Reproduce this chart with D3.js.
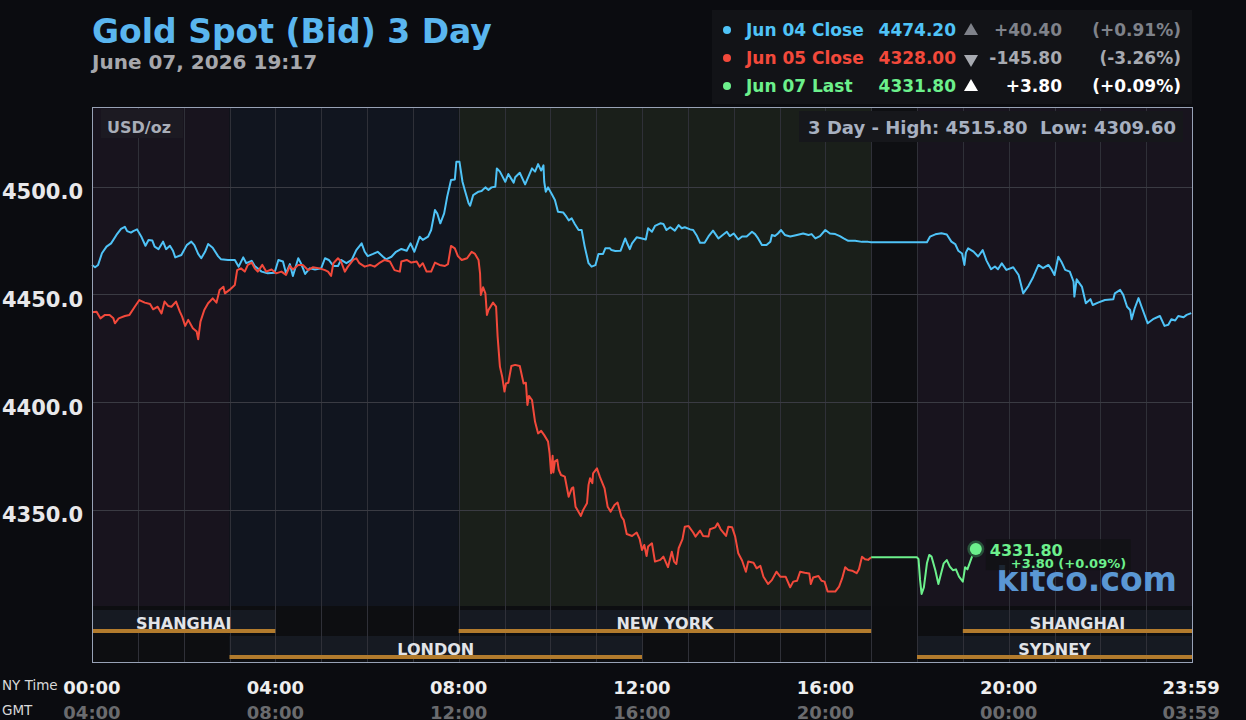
<!DOCTYPE html>
<html>
<head>
<meta charset="utf-8">
<script src="https://cdn.jsdelivr.net/npm/d3@7"></script>
<style>
  body { margin: 0; background: #0b0c10; }
  svg { display: block; font-family: "DejaVu Sans", sans-serif; }
</style>
</head>
<body>
<div id="chart"></div>
<script>
// minutes since 00:00 NY time, price
const jun04Series = [[0,4463.7],[4,4462.6],[8,4463.7],[13,4469.1],[19,4472.2],[25,4473.7],[32,4477.6],[38,4480.4],[43,4481.4],[46,4479.4],[51,4478.7],[54,4479.4],[59,4480.2],[65,4476.5],[70,4472.6],[74,4475.3],[79,4475.0],[82,4472.2],[87,4471.0],[93,4474.5],[97,4471.0],[102,4472.6],[106,4470.3],[109,4467.2],[117,4468.3],[124,4472.9],[130,4474.5],[134,4472.9],[139,4468.8],[143,4466.8],[148,4469.8],[152,4473.4],[158,4471.7],[165,4467.8],[169,4466.3],[178,4466.0],[187,4466.0],[192,4462.9],[198,4467.2],[202,4464.5],[209,4465.6],[213,4463.2],[222,4460.6],[230,4459.8],[239,4460.1],[244,4466.0],[250,4465.3],[254,4459.8],[259,4464.1],[263,4458.6],[270,4466.8],[274,4464.1],[279,4459.5],[285,4462.1],[292,4461.6],[300,4462.1],[305,4466.8],[310,4466.0],[316,4463.2],[322,4463.2],[326,4466.0],[333,4464.5],[340,4466.0],[346,4470.6],[353,4473.7],[357,4469.8],[361,4467.8],[368,4468.8],[374,4469.8],[381,4467.5],[385,4466.3],[392,4467.5],[398,4469.8],[405,4471.1],[412,4470.3],[417,4473.7],[422,4469.8],[429,4476.8],[433,4475.3],[440,4476.8],[444,4479.9],[449,4489.2],[452,4487.6],[456,4483.0],[461,4487.6],[465,4495.4],[470,4503.1],[475,4503.4],[477,4511.6],[481,4511.6],
  [485,4502.3],[488,4498.5],[493,4492.3],[495,4491.2],[499,4496.1],[506,4497.7],[510,4498.0],[515,4499.7],[519,4498.5],[523,4499.7],[528,4500.0],[530,4508.5],[534,4507.0],[541,4502.3],[545,4505.9],[552,4501.9],[554,4504.4],[560,4506.5],[567,4501.1],[576,4508.5],[580,4507.0],[584,4510.5],[588,4507.5],[591,4509.9],[592,4502.3],[594,4497.7],[597,4499.7],[602,4496.5],[606,4493.8],[610,4488.4],[617,4488.0],[621,4486.1],[624,4484.4],[628,4485.3],[632,4482.7],[637,4479.9],[641,4479.9],[645,4472.2],[650,4464.5],[654,4462.9],[659,4463.6],[663,4468.8],[669,4468.8],[672,4471.4],[678,4471.4],[680,4470.6],[685,4470.2],[692,4470.3],[698,4476.0],[701,4473.4],[704,4471.0],[707,4473.7],[713,4476.5],[720,4476.0],[725,4475.5],[728,4480.7],[733,4479.1],[737,4481.8],[744,4483.0],[748,4482.7],[752,4479.9],[757,4481.2],[763,4479.6],[768,4482.2],[772,4480.7],[776,4481.2],[783,4480.2],[787,4479.9],[792,4477.1],[796,4474.0],[802,4474.0],[807,4476.9],[813,4479.6],[820,4476.0],[824,4477.1],[831,4479.1],[835,4477.1],[840,4478.3],[846,4475.5],[851,4476.9],[857,4476.9],[864,4479.1],[868,4478.0],[872,4476.0],[877,4472.9],[883,4472.9],[888,4474.5],[890,4477.6],[894,4477.1],[898,4478.3],[902,4479.9],[907,4477.6],[914,4476.9],[920,4477.4],[931,4478.3],[938,4477.6],[942,4478.0],[947,4476.0],[953,4477.1],[960,4479.9],[966,4478.3],[973,4478.0],[979,4477.1],[984,4476.0],[990,4474.9],[999,4474.9],[1008,4474.4],[1016,4474.4],[1020,4474.2],[1080,4474.2],
  [1093,4474.2],[1097,4476.8],[1104,4477.9],[1112,4478.4],[1119,4477.8],[1125,4474.5],[1130,4473.4],[1134,4470.3],[1139,4469.0],[1142,4463.7],[1144,4469.4],[1147,4471.4],[1154,4469.9],[1160,4467.6],[1166,4470.6],[1171,4465.7],[1177,4461.7],[1182,4463.0],[1186,4461.7],[1191,4464.4],[1197,4461.4],[1206,4462.6],[1213,4459.0],[1219,4450.5],[1226,4454.0],[1232,4458.0],[1239,4463.7],[1245,4462.2],[1252,4463.7],[1256,4461.7],[1260,4459.0],[1265,4467.5],[1269,4465.2],[1274,4461.4],[1280,4460.6],[1285,4455.9],[1286,4449.0],[1289,4457.0],[1296,4453.5],[1301,4445.9],[1307,4447.8],[1310,4445.1],[1317,4446.2],[1326,4447.4],[1337,4447.8],[1339,4450.5],[1346,4452.1],[1350,4449.8],[1355,4444.3],[1359,4442.8],[1361,4438.5],[1365,4443.6],[1370,4448.3],[1374,4444.3],[1382,4436.6],[1389,4438.5],[1398,4440.0],[1404,4435.4],[1409,4435.9],[1413,4438.5],[1418,4437.9],[1422,4440.0],[1429,4439.4],[1433,4440.5],[1439,4441.3]];

const jun05Series = [[0,4441.7],[6,4442.0],[11,4438.9],[17,4440.5],[23,4440.5],[28,4438.9],[30,4436.6],[35,4438.9],[43,4440.0],[49,4440.5],[56,4444.3],[62,4447.4],[69,4446.2],[76,4445.6],[80,4443.1],[86,4444.3],[91,4441.2],[95,4446.7],[100,4444.6],[104,4444.3],[110,4446.7],[115,4442.0],[118,4439.7],[122,4435.4],[126,4438.2],[132,4434.3],[137,4432.8],[139,4429.2],[142,4437.4],[147,4442.8],[152,4445.9],[158,4448.2],[163,4446.2],[167,4452.1],[172,4453.6],[174,4450.5],[180,4452.1],[187,4454.4],[190,4461.3],[195,4462.1],[200,4460.6],[204,4463.7],[209,4464.8],[213,4462.1],[217,4460.6],[223,4463.7],[228,4460.6],[235,4461.6],[241,4459.8],[248,4460.6],[254,4459.1],[259,4463.2],[263,4461.6],[270,4463.7],[276,4463.7],[283,4461.3],[289,4462.6],[298,4462.1],[305,4461.3],[309,4460.6],[313,4458.6],[316,4464.5],[322,4466.8],[326,4465.3],[331,4460.6],[335,4462.9],[342,4466.0],[346,4466.8],[350,4464.5],[357,4462.9],[364,4463.7],[370,4462.9],[377,4464.8],[383,4466.0],[390,4465.3],[396,4461.3],[403,4460.6],[405,4465.3],[412,4466.0],[418,4464.8],[425,4465.3],[429,4462.9],[433,4464.5],[438,4460.6],[444,4460.6],[449,4464.8],[455,4463.7],[462,4463.2],[466,4464.1],[470,4472.5],[475,4471.4],[479,4467.8],
  [484,4466.0],[491,4466.8],[497,4469.8],[501,4469.0],[506,4466.0],[508,4459.8],[509,4449.7],[512,4453.3],[515,4450.5],[517,4440.5],[519,4442.8],[525,4446.2],[529,4444.3],[531,4430.4],[534,4416.5],[537,4411.8],[540,4404.9],[542,4408.7],[545,4409.0],[549,4416.8],[554,4417.3],[560,4416.8],[565,4408.7],[568,4409.0],[570,4398.7],[572,4402.9],[576,4401.0],[580,4390.9],[584,4385.5],[588,4386.7],[592,4384.7],[597,4381.7],[599,4376.3],[601,4367.0],[603,4375.1],[604,4367.4],[606,4372.5],[609,4373.3],[611,4368.7],[614,4366.2],[619,4365.4],[624,4356.1],[628,4360.0],[630,4360.5],[633,4351.5],[640,4347.2],[643,4350.0],[648,4353.1],[650,4361.6],[652,4364.7],[655,4362.4],[656,4367.0],[661,4369.3],[665,4365.2],[671,4360.0],[675,4351.5],[679,4349.2],[684,4352.3],[688,4353.4],[693,4346.9],[696,4345.4],[700,4338.8],[707,4337.9],[713,4339.5],[717,4336.4],[720,4331.4],[723,4333.7],[726,4328.6],[728,4333.0],[733,4334.5],[737,4326.0],[744,4326.8],[748,4328.3],[754,4323.4],[759,4330.6],[762,4326.0],[765,4324.9],[768,4332.2],[773,4336.4],[776,4342.2],[781,4342.5],[787,4339.5],[790,4337.6],[796,4340.4],[800,4337.9],[807,4337.6],[809,4341.0],[816,4341.9],[819,4343.8],[823,4341.0],[830,4337.9],[833,4342.2],[838,4341.9],[842,4337.6],[846,4329.9],[851,4326.5],[856,4321.3],[859,4326.0],[866,4325.5],[870,4322.9],[875,4324.0],[879,4319.0],[885,4315.6],[890,4317.4],[896,4321.3],[901,4319.0],[908,4319.0],[914,4314.1],[918,4316.7],[923,4317.1],[927,4321.3],[933,4320.8],[939,4320.5],[941,4315.6],[944,4318.6],[951,4319.3],[955,4317.1],[959,4316.7],[963,4312.1],[968,4312.1],[973,4312.1],[978,4314.4],[982,4318.2],[986,4323.4],[990,4322.1],[995,4321.8],[1001,4320.6],[1004,4322.4],[1008,4328.3],[1012,4327.1],[1016,4326.8],[1020,4328.0]];

const jun07Series = [[1020,4328.0],[1080,4328.0],[1082,4327.1],[1084,4317.5],[1086,4311.0],[1089,4314.0],[1093,4325.2],[1096,4329.1],[1099,4328.3],[1104,4322.0],[1108,4315.6],[1111,4319.8],[1115,4325.2],[1119,4326.7],[1123,4323.7],[1127,4322.0],[1131,4322.4],[1135,4319.0],[1140,4316.7],[1143,4323.4],[1146,4322.4],[1152,4328.3],[1157,4331.8]];

const legendLabels = ['Jun 04 Close', 'Jun 05 Close', 'Jun 07 Last'];
const legendValues = ['4474.20', '4328.00', '4331.80'];
const legendChanges = ['+40.40', '-145.80', '+3.80'];
const legendPcts = ['(+0.91%)', '(-3.26%)', '(+0.09%)'];
const legendDirs = ['up', 'down', 'up'];

const yTicks = [4350, 4400, 4450, 4500];
const xTicks = [0, 240, 480, 720, 960, 1200, 1439];
const nyLabels = ['00:00', '04:00', '08:00', '12:00', '16:00', '20:00', '23:59'];
const gmtLabels = ['04:00', '08:00', '12:00', '16:00', '20:00', '00:00', '03:59'];

// background zones (minutes)
const zoneStarts = [0, 180, 480, 1020, 1080];
const zoneEnds = [180, 480, 1020, 1080, 1440];
const zoneColors = ['#18141e', '#11151f', '#1a1f1a', '#0e0f12', '#18141e'];

const sessionNames = ['SHANGHAI', 'NEW YORK', 'SHANGHAI', 'LONDON', 'SYDNEY'];
const sessionStarts = [0, 480, 1140, 180, 1080];
const sessionEnds = [240, 1020, 1440, 720, 1440];
const sessionRows = [0, 0, 0, 1, 1];

const dayHigh = '4515.80';
const dayLow = '4309.60';
const lastValue = 4331.8;
const lastTime = 1157;

const width = 1246;
const height = 720;
const pL = 92, pR = 1192, pT = 107, pB = 662;
const stripTop = 606;

const colors = { jun04: '#4fc3f7', jun05: '#f2493b', jun07: '#6cf08c' };

const svg = d3.select('#chart')
              .append('svg')
              .attr('width', width)
              .attr('height', height);

const xScale = d3.scaleLinear().domain([0, 1440]).range([pL, pR]);
const yScale = d3.scaleLinear().domain([4279.4, 4537]).range([pB, pT]);

// zones
svg.selectAll('rect.zone')
   .data(zoneStarts)
   .enter()
   .append('rect')
   .attr('x', (d) => xScale(d))
   .attr('y', pT)
   .attr('width', (d, i) => xScale(zoneEnds[i]) - xScale(d))
   .attr('height', stripTop - pT)
   .attr('fill', (d, i) => zoneColors[i]);

svg.append('rect')
   .attr('x', pL).attr('y', stripTop)
   .attr('width', pR - pL).attr('height', pB - stripTop)
   .attr('fill', '#0d0e11');

// session bars
const rowY = [610, 636];
svg.selectAll('rect.session')
   .data(sessionNames)
   .enter()
   .append('rect')
   .attr('x', (d, i) => xScale(sessionStarts[i]))
   .attr('y', (d, i) => rowY[sessionRows[i]])
   .attr('width', (d, i) => xScale(sessionEnds[i]) - xScale(sessionStarts[i]))
   .attr('height', 23)
   .attr('fill', '#161a22');

// grid
const hours = d3.range(1, 24).map((h) => h * 60);
svg.selectAll('line.vgrid')
   .data(hours)
   .enter()
   .append('line')
   .attr('x1', (d) => Math.round(xScale(d)) + 0.5)
   .attr('x2', (d) => Math.round(xScale(d)) + 0.5)
   .attr('y1', pT)
   .attr('y2', pB)
   .attr('stroke', '#2f3038')
   .attr('stroke-width', 1);

svg.selectAll('line.hgrid')
   .data(yTicks)
   .enter()
   .append('line')
   .attr('x1', pL)
   .attr('x2', pR)
   .attr('y1', (d) => Math.round(yScale(d)) + 0.5)
   .attr('y2', (d) => Math.round(yScale(d)) + 0.5)
   .attr('stroke', '#3a3b43')
   .attr('stroke-width', 1.2);

svg.selectAll('rect.orange')
   .data(sessionNames)
   .enter()
   .append('rect')
   .attr('x', (d, i) => xScale(sessionStarts[i]))
   .attr('y', (d, i) => rowY[sessionRows[i]] + 19)
   .attr('width', (d, i) => xScale(sessionEnds[i]) - xScale(sessionStarts[i]))
   .attr('height', 4)
   .attr('fill', '#b27b2d');

svg.selectAll('text.session')
   .data(sessionNames)
   .enter()
   .append('text')
   .attr('x', (d, i) => (xScale(sessionStarts[i]) + xScale(sessionEnds[i])) / 2)
   .attr('y', (d, i) => rowY[sessionRows[i]] + 19)
   .attr('text-anchor', 'middle')
   .attr('font-size', 16)
   .attr('font-weight', 'bold')
   .attr('fill', '#e2e4e8')
   .text((d) => d);

// lines
const line = d3.line()
               .x((d) => xScale(d[0]))
               .y((d) => yScale(d[1]));

[[jun04Series, colors.jun04], [jun05Series, colors.jun05], [jun07Series, colors.jun07]].forEach(([s, c]) => {
  svg.append('path')
     .datum(s)
     .attr('d', line)
     .attr('fill', 'none')
     .attr('stroke', c)
     .attr('stroke-width', 2)
     .attr('stroke-linejoin', 'round');
});

// border
svg.append('rect')
   .attr('x', pL + 0.5).attr('y', pT + 0.5)
   .attr('width', pR - pL).attr('height', pB - pT)
   .attr('fill', 'none')
   .attr('stroke', '#98a2b6')
   .attr('stroke-width', 1);

// y labels
svg.selectAll('text.ytick')
   .data(yTicks)
   .enter()
   .append('text')
   .attr('x', 83)
   .attr('y', (d) => yScale(d) + 12.5)
   .attr('text-anchor', 'end')
   .attr('font-size', 21)
   .attr('font-weight', 'bold')
   .attr('fill', '#e8e8ea')
   .text((d) => d.toFixed(1));

// x labels
svg.selectAll('text.ny')
   .data(xTicks)
   .enter()
   .append('text')
   .attr('x', (d) => xScale(d))
   .attr('y', 694)
   .attr('text-anchor', 'middle')
   .attr('font-size', 18)
   .attr('font-weight', 'bold')
   .attr('fill', '#eeeeee')
   .text((d, i) => nyLabels[i]);

svg.selectAll('text.gmt')
   .data(xTicks)
   .enter()
   .append('text')
   .attr('x', (d) => xScale(d))
   .attr('y', 719)
   .attr('text-anchor', 'middle')
   .attr('font-size', 18)
   .attr('font-weight', 'bold')
   .attr('fill', '#6a6b6e')
   .text((d, i) => gmtLabels[i]);

svg.append('text').attr('x', 2).attr('y', 690)
   .attr('font-size', 13.5).attr('fill', '#d8d8d8').text('NY Time');
svg.append('text').attr('x', 2).attr('y', 715)
   .attr('font-size', 13.5).attr('fill', '#d8d8d8').text('GMT');

// title
svg.append('text')
   .attr('x', 92).attr('y', 43)
   .attr('font-size', 33).attr('font-weight', 'bold')
   .attr('fill', '#5ab6ef')
   .text('Gold Spot (Bid) 3 Day');

svg.append('text')
   .attr('x', 92).attr('y', 69)
   .attr('font-size', 20).attr('font-weight', 'bold')
   .attr('fill', '#a6a7ac')
   .text('June 07, 2026 19:17');

// legend
svg.append('rect')
   .attr('x', 712).attr('y', 10)
   .attr('width', 480).attr('height', 94)
   .attr('fill', '#121317');

const rowColors = [colors.jun04, colors.jun05, colors.jun07];
const changeColors = ['#7f828a', '#a7aab1', '#ffffff'];
legendLabels.forEach((lab, i) => {
  const cy = 30 + i * 28;
  svg.append('circle').attr('cx', 727).attr('cy', cy).attr('r', 4).attr('fill', rowColors[i]);
  svg.append('text').attr('x', 746).attr('y', cy + 6)
     .attr('font-size', 17).attr('font-weight', 'bold').attr('fill', rowColors[i]).text(lab);
  svg.append('text').attr('x', 956).attr('y', cy + 6).attr('text-anchor', 'end')
     .attr('font-size', 17).attr('font-weight', 'bold').attr('fill', rowColors[i]).text(legendValues[i]);
  svg.append('path')
     .attr('d', d3.symbol().type(d3.symbolTriangle).size(85)())
     .attr('transform', 'translate(971,' + (cy + 1) + ')' + (legendDirs[i] === 'down' ? ' rotate(180)' : ''))
     .attr('fill', changeColors[i]);
  svg.append('text').attr('x', 1062).attr('y', cy + 6).attr('text-anchor', 'end')
     .attr('font-size', 17).attr('font-weight', 'bold').attr('fill', changeColors[i]).text(legendChanges[i]);
  svg.append('text').attr('x', 1181).attr('y', cy + 6).attr('text-anchor', 'end')
     .attr('font-size', 17).attr('font-weight', 'bold').attr('fill', changeColors[i]).text(legendPcts[i]);
});

// in-plot boxes
svg.append('rect').attr('x', 101).attr('y', 109).attr('width', 82).attr('height', 29).attr('fill', '#1c1a22');
svg.append('text').attr('x', 107).attr('y', 133)
   .attr('font-size', 16).attr('font-weight', 'bold').attr('fill', '#a9aeb8').text('USD/oz');

svg.append('rect').attr('x', 799).attr('y', 111).attr('width', 384).attr('height', 31).attr('fill', '#16171b');
svg.append('text').attr('x', 1176).attr('y', 134).attr('text-anchor', 'end')
   .attr('font-size', 18).attr('font-weight', 'bold').attr('fill', '#a7b0c0')
   .style('white-space', 'pre')
   .text('3 Day - High: ' + dayHigh + '  Low: ' + dayLow);

// watermark
svg.append('text').attr('x', 1177).attr('y', 591).attr('text-anchor', 'end')
   .attr('font-size', 33).attr('font-weight', 'bold').attr('fill', '#5a97d4').text('kitco.com');

// last price marker
const lx = xScale(lastTime), ly = yScale(lastValue);
svg.append('rect').attr('x', lx + 10).attr('y', ly - 10).attr('width', 145).attr('height', 31)
   .attr('fill', '#121215').attr('opacity', 0.85);
svg.append('circle').attr('cx', lx).attr('cy', ly).attr('r', 8.5).attr('fill', '#28513a');
svg.append('circle').attr('cx', lx).attr('cy', ly).attr('r', 6).attr('fill', colors.jun07);
svg.append('text').attr('x', lx + 14).attr('y', ly + 7)
   .attr('font-size', 16).attr('font-weight', 'bold').attr('fill', colors.jun07).text(lastValue.toFixed(2));
svg.append('text').attr('x', lx + 35).attr('y', ly + 19)
   .attr('font-size', 13).attr('font-weight', 'bold').attr('fill', colors.jun07).text('+3.80 (+0.09%)');
</script>
</body>
</html>
